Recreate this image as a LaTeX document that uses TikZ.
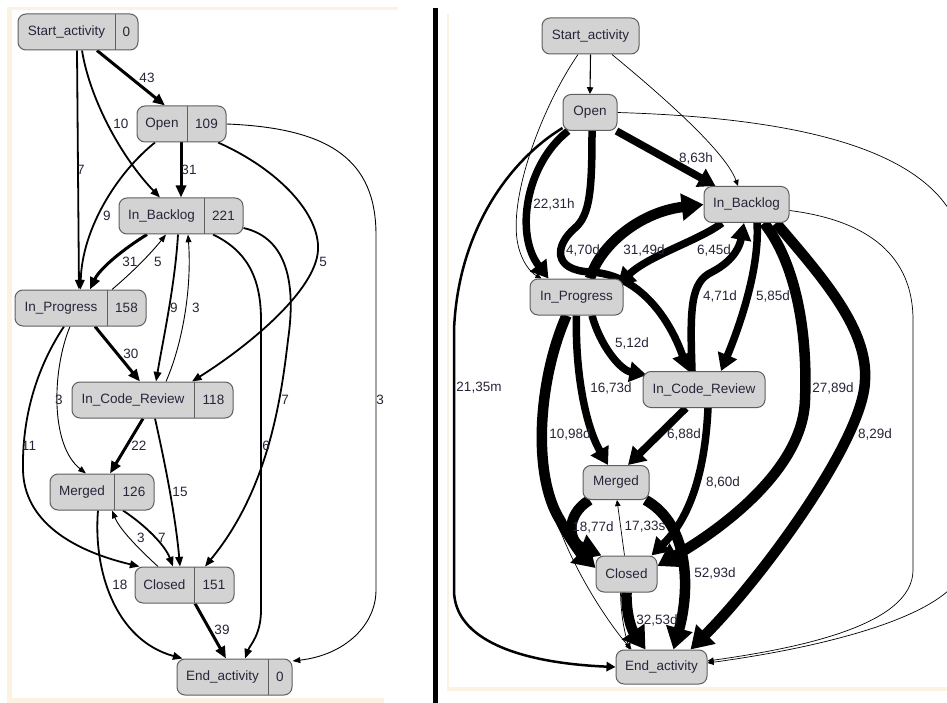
\documentclass[tikz,border=0pt]{standalone}
\usepackage{fontspec}
\setmainfont{Liberation Sans}
\usetikzlibrary{arrows.meta}
\definecolor{nodefill}{HTML}{D3D3D3}
\definecolor{nodeline}{HTML}{5F5F5F}
\definecolor{ink}{HTML}{26263A}
\definecolor{cream}{HTML}{FCF2E2}
\pgfdeclarelayer{panel}
\pgfdeclarelayer{edges}
\pgfsetlayers{panel,edges,main}

\tikzset{
  box/.style={draw=nodeline, fill=nodefill, line width=1pt, rounded corners=8pt,
              inner sep=0pt, minimum height=36pt},
  txt/.style={font=\fontsize{13.5}{16}\selectfont, text=ink, inner sep=0pt},
  wlbl/.style={font=\fontsize{13.5}{16}\selectfont, text=ink, inner sep=0pt},
  % frequency view
  ltip/.style={-{Triangle[length=6pt 2, width=4pt 2]}},
  lthin/.style={ltip, line width=0.9pt},
  lmid/.style={ltip, line width=1.8pt},
  lthick/.style={ltip, line width=3pt},
  % duration view
  rtip/.style={-{Triangle[length=5pt 1.6, width=4pt 2.1]}},
  rhair/.style={rtip, line width=0.7pt},
  rone/.style={rtip, line width=1.1pt},
  rmed/.style={rtip, line width=2.5pt},
  rthick/.style={rtip, line width=7.5pt},
  rheavy/.style={rtip, line width=10.5pt},
}

% record node: name, left x, divider x, right x, centre y, activity, count
\newcommand\recordbox[7]{%
  \node[box, minimum width={(#4-#2)*1pt}] (#1) at ({(#2+#4)/2},#5) {};
  \draw[nodeline, line width=1pt] (#3,{#5-18}) -- (#3,{#5+18});
  \node[txt] (#1-name) at ({(#2+#3)/2},#5) {#6};
  \node[txt] (#1-count) at ({(#3+#4)/2},#5) {#7};
}

\begin{document}
\begin{tikzpicture}[x=1pt, y=-1pt]
\useasboundingbox (0,0) rectangle (947,703);

% ---------------- panel frames ----------------
\begin{pgfonlayer}{panel}
  \fill[white] (0,0) rectangle (947,703);
  \fill[cream] (7,7) rectangle (398,10);
  \fill[cream] (7,7) rectangle (12,703);
  \fill[cream] (7,698) rectangle (384,703);
  \fill[cream] (447,14) rectangle (449,691);
  \fill[cream] (447,687) rectangle (947,691);
  \fill[black] (433,8) rectangle (438,703);
\end{pgfonlayer}

% ---------------- frequency map ----------------
\recordbox{Ls}{18}{115}{138}{32}{Start\_activity}{0}
\recordbox{Lo}{137}{187}{226}{124}{Open}{109}
\recordbox{Lb}{119}{204}{243}{216}{In\_Backlog}{221}
\recordbox{Lp}{15}{107}{146}{308}{In\_Progress}{158}
\recordbox{Lc}{72}{194}{233}{400}{In\_Code\_Review}{118}
\recordbox{Lm}{50}{114}{154}{492}{Merged}{126}
\recordbox{Lx}{135}{194}{234}{585}{Closed}{151}
\recordbox{Le}{177}{268}{292}{677}{End\_activity}{0}

\begin{pgfonlayer}{edges}
  \draw[lthick] ([xshift=19pt]Ls.south) -- ([xshift=-16.5pt]Lo.north);
  \draw[lmid] ([xshift=4pt]Ls.south) .. controls (90,100) and (122,158) .. ([xshift=-21pt]Lb.north);
  \draw[lmid] ([xshift=-1pt]Ls.south) -- ([xshift=-1.5pt]Lp.north);
  \draw[lthick] ([xshift=-0.5pt]Lo.south) -- (Lb.north);
  \draw[lmid] ([xshift=-26.5pt]Lo.south) .. controls (118,172) and (82,228) .. (Lp.north);
  \draw[lthick] ([xshift=-34pt]Lb.south) .. controls (125,248) and (100,268) .. ([xshift=9.5pt]Lp.north);
  \draw[lthin] ([xshift=31.5pt]Lp.north) .. controls (135,270) and (152,252) .. ([xshift=-15pt]Lb.south);
  \draw[lmid] ([xshift=36.5pt]Lo.south) .. controls (280,170) and (320,215) .. (318,250)
              .. controls (316,290) and (250,345) .. ([xshift=39.5pt]Lc.north);
  \draw[lthin] (Lo.east) .. controls (330,128) and (376,160) .. (376,235) -- (376,590)
              .. controls (376,625) and (345,655) .. ([yshift=16pt]Le.east);
  \draw[lmid] ([xshift=-3pt]Lb.south) .. controls (175,285) and (163,340) .. ([xshift=3.5pt]Lc.north);
  \draw[lthin] ([xshift=13.5pt]Lc.north) .. controls (182,345) and (192,290) .. ([xshift=7pt]Lb.south);
  \draw[lmid] ([xshift=32pt]Lb.south) .. controls (245,250) and (261,275) .. (261,320) -- (261,610)
              .. controls (261,635) and (250,645) .. ([xshift=10.5pt]Le.north);
  \draw[lmid] ([yshift=-12pt]Lb.east) .. controls (288,238) and (296,285) .. (288,340)
              .. controls (281,400) and (268,490) .. ([xshift=20.5pt]Lx.north);
  \draw[lthick] ([xshift=14.5pt]Lp.south) -- ([xshift=-12.5pt]Lc.north);
  \draw[lthin] ([xshift=-10.5pt]Lp.south) .. controls (52,370) and (50,445) .. ([xshift=-16pt]Lm.north);
  \draw[lmid] ([xshift=-16.5pt]Lp.south) .. controls (35,370) and (22,420) .. (23,470)
              .. controls (24,520) and (70,550) .. ([xshift=5pt]Lx.north west);
  \draw[lthick] ([xshift=-9.5pt]Lc.south) -- ([xshift=8pt]Lm.north);
  \draw[lmid] ([xshift=2.5pt]Lc.south) .. controls (162,450) and (175,510) .. ([xshift=-4.5pt]Lx.north);
  \draw[lmid] ([xshift=21pt]Lm.south) .. controls (145,525) and (165,545) .. ([xshift=-11.5pt]Lx.north);
  \draw[lthin] ([xshift=-26.5pt]Lx.north) .. controls (140,550) and (120,530) .. ([xshift=10pt]Lm.south);
  \draw[lmid] ([xshift=-4pt]Lm.south) .. controls (93,570) and (115,640) .. ([xshift=6pt]Le.north west);
  \draw[lthick] ([xshift=10.5pt]Lx.south) -- ([xshift=-8.5pt]Le.north);
\end{pgfonlayer}

\node[wlbl] (f43) at (147,78) {43};
\node[wlbl] (f10) at (121,124) {10};
\node[wlbl] (f7a) at (81,170) {7};
\node[wlbl] (f31a) at (189,170) {31};
\node[wlbl] (f9a) at (107,216) {9};
\node[wlbl] (f31b) at (130,262) {31};
\node[wlbl] (f5a) at (158,262) {5};
\node[wlbl] (f5b) at (323,262) {5};
\node[wlbl] (f9b) at (174,308) {9};
\node[wlbl] (f3a) at (196,308) {3};
\node[wlbl] (f30) at (131,354) {30};
\node[wlbl] (f3b) at (59,400) {3};
\node[wlbl] (f7b) at (285,400) {7};
\node[wlbl] (f3c) at (380,400) {3};
\node[wlbl] (f11) at (29,446) {11};
\node[wlbl] (f22) at (139,446) {22};
\node[wlbl] (f6) at (266,446) {6};
\node[wlbl] (f15) at (180,492) {15};
\node[wlbl] (f3d) at (141,538) {3};
\node[wlbl] (f7c) at (162,538) {7};
\node[wlbl] (f18) at (120,585) {18};
\node[wlbl] (f39) at (222,630) {39};

% ---------------- duration map ----------------
\node[box, txt, minimum width=97pt] (Rs) at (590.5,36) {Start\_activity};
\node[box, txt, minimum width=54pt] (Ro) at (590,112.5) {Open};
\node[box, txt, minimum width=85pt] (Rb) at (746.5,204.5) {In\_Backlog};
\node[box, txt, minimum width=93pt] (Rp) at (576.5,297) {In\_Progress};
\node[box, txt, minimum width=122pt] (Rc) at (704,389.5) {In\_Code\_Review};
\node[box, txt, minimum width=66pt, minimum height=34pt] (Rm) at (616,482.5) {Merged};
\node[box, txt, minimum width=61pt] (Rx) at (626.5,574) {Closed};
\node[box, txt, minimum width=91pt, minimum height=34pt] (Re) at (661.5,667) {End\_activity};

\begin{pgfonlayer}{edges}
\begin{scope}
  \clip (440,0) rectangle (947,703);
  \draw[rone] (Rs.south) -- (Ro.north);
  \draw[rhair] ([xshift=21.5pt]Rs.south) .. controls (655,90) and (725,150) .. ([xshift=-8.5pt]Rb.north);
  \draw[rhair] ([xshift=-12.5pt]Rs.south) .. controls (540,110) and (508,200) .. (518,245)
              .. controls (522,262) and (530,272) .. ([xshift=12pt]Rp.north west);
  \draw[rthick] ([xshift=-1pt]Ro.south east) -- ([xshift=12pt]Rb.north west);
  \draw[rmed] ([yshift=3pt]Ro.south west) .. controls (510,160) and (458,230) .. (454,330) -- (454,590)
              .. controls (454,640) and (520,663) .. (Re.west);
  \draw[rthick] ([xshift=-22pt]Ro.south) .. controls (525,165) and (515,235) .. ([xshift=-28pt]Rp.north);
  \draw[rthick] ([xshift=2pt]Ro.south) .. controls (592,190) and (590,215) .. (575,228)
              .. controls (555,245) and (552,270) .. (590,272)
              .. controls (640,274) and (670,320) .. ([xshift=-16pt]Rc.north);
  \draw[rheavy] ([xshift=13.5pt]Rp.north) .. controls (600,245) and (640,212) .. (Rb.west);
  \draw[rthick] ([xshift=-24.5pt]Rb.south) .. controls (700,240) and (650,255) .. ([xshift=-6pt,yshift=12pt]Rp.east);
  \draw[rthick] ([xshift=-12pt]Rc.north) .. controls (690,310) and (690,282) .. (712,272)
              .. controls (735,260) and (740,245) .. ([xshift=-2.5pt]Rb.south);
  \draw[rthick] ([xshift=10.5pt]Rb.south) .. controls (760,270) and (738,330) .. ([xshift=17pt]Rc.north);
  \draw[rheavy] ([xshift=17.5pt]Rb.south) .. controls (795,262) and (808,330) .. (805,400)
              .. controls (803,470) and (720,530) .. ([yshift=8pt]Rx.east);
  \draw[rheavy] ([xshift=29.5pt]Rb.south) .. controls (825,280) and (868,330) .. (865,380)
              .. controls (864,440) and (760,580) .. ([xshift=29pt]Re.north);
  \draw[rhair] ([yshift=-6pt]Rb.east) .. controls (880,222) and (913,265) .. (913,320) -- (913,570)
              .. controls (913,625) and (800,648) .. ([yshift=6pt]Re.east);
  \draw[rhair] (Ro.east) .. controls (800,118) and (960,150) .. (965,260) -- (965,560)
              .. controls (965,610) and (840,645) .. ([yshift=4pt]Re.east);
  \draw[rthick] ([xshift=15.5pt]Rp.south) .. controls (600,345) and (620,370) .. ([xshift=4pt,yshift=-4pt]Rc.north west);
  \draw[rthick] (Rp.south) .. controls (575,370) and (585,425) .. ([xshift=-8pt]Rm.north);
  \draw[rhair] ([xshift=-12pt]Rp.south) .. controls (535,400) and (535,480) .. (562,535)
              .. controls (580,580) and (610,625) .. ([xshift=-30pt]Re.north);
  \draw[rheavy] ([xshift=-10pt]Rp.south) .. controls (538,380) and (532,475) .. (560,520)
              .. controls (570,540) and (583,556) .. ([yshift=6pt]Rx.west);
  \draw[rthick] ([xshift=-18pt]Rc.south) -- ([xshift=12pt]Rm.north);
  \draw[rthick] ([xshift=4pt]Rc.south) .. controls (706,450) and (698,510) .. ([xshift=-6pt]Rx.north east);
  \draw[rheavy] ([xshift=7pt]Rm.south west) .. controls (565,515) and (568,542) .. ([xshift=6pt]Rx.north west);
  \draw[rhair] ([xshift=-2pt]Rx.north) -- ([xshift=1pt]Rm.south);
  \draw[rheavy] ([xshift=-4pt]Rm.south east) .. controls (690,525) and (690,590) .. ([xshift=12pt]Re.north);
  \draw[rhair] ([xshift=-6pt]Rx.south) .. controls (621,615) and (624,630) .. ([xshift=-32pt]Re.north);
  \draw[rheavy] (Rx.south) .. controls (626,615) and (632,630) .. ([xshift=-16pt]Re.north);
\end{scope}
\end{pgfonlayer}

\node[wlbl] (d863h) at (696,158) {8,63h};
\node[wlbl] (d2231h) at (554,204) {22,31h};
\node[wlbl] (d470d) at (583,250) {4,70d};
\node[wlbl] (d3149d) at (644,250) {31,49d};
\node[wlbl] (d645d) at (714,250) {6,45d};
\node[wlbl] (d471d) at (720,296) {4,71d};
\node[wlbl] (d585d) at (773,296) {5,85d};
\node[wlbl] (d512d) at (632,343) {5,12d};
\node[wlbl] (d2135m) at (479,388) {21,35m};
\node[wlbl] (d1673d) at (611,388) {16,73d};
\node[wlbl] (d2789d) at (833,388) {27,89d};
\node[wlbl] (d1098d) at (570,434) {10,98d};
\node[wlbl] (d688d) at (684,434) {6,88d};
\node[wlbl] (d829d) at (875,434) {8,29d};
\node[wlbl] (d860d) at (723,482) {8,60d};
\node[wlbl] (d1877d) at (593,527) {18,77d};
\node[wlbl] (d1733s) at (645,527) {17,33s};
\node[wlbl] (d5293d) at (715,573) {52,93d};
\node[wlbl] (d3253d) at (657,620) {32,53d};
\end{tikzpicture}
\end{document}
